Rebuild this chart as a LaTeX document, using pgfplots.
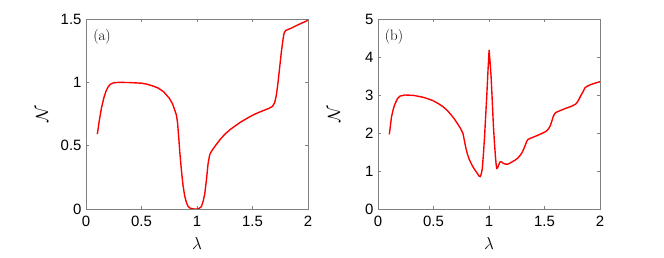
\documentclass[border=0pt]{standalone}
\usepackage{fontspec}
\usepackage{pgfplots}
\pgfplotsset{compat=1.18}
\newfontfamily\arial{Liberation Sans}

\pgfplotsset{
  panel/.style={
    width=222bp, height=190bp, scale only axis,
    xmin=0, xmax=2, xtick={0,0.5,1,1.5,2},
    tick align=inside,
    axis line style={black!50},
    every tick/.style={black!50, line width=0.5pt},
    major tick length=3bp,
    tick label style={font=\arial\fontsize{15}{16}\selectfont},
    /pgf/number format/assume math mode=true,
    xticklabel style={yshift=-4bp},
    yticklabel style={xshift=-1bp},
    label style={font=\fontsize{18}{19}\selectfont},
    xlabel={$\lambda$}, ylabel={$\mathcal{N}$},
    xlabel style={at={(axis description cs:0.5,-0.184)}, anchor=center},
    ylabel style={at={(axis description cs:-0.198,0.5)}, anchor=center},
  },
  curve/.style={red, line width=1.4pt, line join=round},
}

\begin{document}
\begin{tikzpicture}
\path[use as bounding box] (0,0) rectangle (664bp,258bp);

% (a)
\begin{axis}[panel, at={(86bp,49bp)}, anchor=south west,
  ymin=0, ymax=1.5, ytick={0,0.5,1,1.5}]
\addplot[curve] coordinates {
(0.102,0.591)(0.12,0.70)(0.14,0.80)(0.16,0.875)(0.18,0.93)(0.2,0.965)
(0.22,0.985)(0.25,0.997)(0.3,1.0)(0.4,0.998)(0.5,0.993)(0.55,0.985)
(0.6,0.972)(0.65,0.955)(0.7,0.925)(0.75,0.875)(0.78,0.83)(0.8,0.78)
(0.815,0.74)(0.825,0.68)(0.835,0.57)(0.845,0.45)(0.855,0.35)(0.865,0.26)
(0.875,0.18)(0.89,0.10)(0.905,0.05)(0.92,0.02)(0.94,0.006)(0.97,0.0)
(1.0,0.0)(1.02,0.005)(1.04,0.02)(1.055,0.06)(1.07,0.12)(1.085,0.23)
(1.10,0.36)(1.115,0.43)(1.13,0.455)(1.17,0.505)(1.21,0.55)(1.25,0.59)
(1.3,0.628)(1.35,0.66)(1.4,0.69)(1.45,0.715)(1.5,0.74)(1.55,0.76)
(1.6,0.778)(1.65,0.795)(1.68,0.81)(1.70,0.84)(1.715,0.90)(1.73,1.0)
(1.745,1.12)(1.76,1.24)(1.775,1.34)(1.785,1.39)(1.8,1.41)(1.85,1.428)
(1.9,1.45)(1.95,1.47)(2.0,1.49)
};
\node[font=\fontsize{15}{16}\selectfont] at (axis description cs:0.072,0.905) {(a)};
\end{axis}

% (b)
\begin{axis}[panel, at={(378bp,49bp)}, anchor=south west,
  ymin=0, ymax=5, ytick={0,1,2,3,4,5}]
\addplot[curve] coordinates {
(0.102,1.965)(0.122,2.43)(0.137,2.62)(0.152,2.76)(0.175,2.90)(0.197,2.97)
(0.242,3.0)(0.32,2.99)(0.407,2.94)(0.45,2.90)(0.496,2.85)(0.54,2.78)
(0.586,2.69)(0.625,2.59)(0.661,2.47)(0.69,2.36)(0.72,2.23)(0.745,2.11)
(0.765,1.99)(0.777,1.82)(0.789,1.64)(0.803,1.47)(0.819,1.33)(0.837,1.21)
(0.855,1.11)(0.875,1.02)(0.894,0.94)(0.91,0.87)(0.921,0.85)(0.93,0.92)
(0.939,1.05)(0.95,1.45)(0.96,1.90)(0.971,2.50)(0.981,3.04)(0.991,3.65)
(1.001,4.18)(1.01,3.85)(1.019,3.48)(1.03,2.80)(1.04,2.17)(1.05,1.70)
(1.058,1.38)(1.064,1.18)(1.07,1.06)(1.079,1.10)(1.088,1.16)(1.097,1.23)
(1.106,1.25)(1.118,1.23)(1.13,1.20)(1.15,1.18)(1.169,1.18)(1.19,1.21)
(1.214,1.25)(1.237,1.29)(1.259,1.34)(1.28,1.41)(1.297,1.48)(1.313,1.58)
(1.327,1.68)(1.34,1.78)(1.351,1.83)(1.38,1.87)(1.423,1.92)(1.47,1.98)
(1.513,2.04)(1.533,2.10)(1.549,2.17)(1.565,2.30)(1.578,2.43)(1.59,2.50)
(1.602,2.54)(1.65,2.60)(1.692,2.65)(1.74,2.70)(1.781,2.76)(1.797,2.82)
(1.811,2.89)(1.83,3.00)(1.848,3.09)(1.862,3.18)(1.878,3.22)(1.905,3.26)
(1.932,3.29)(1.965,3.32)(2.0,3.35)
};
\node[font=\fontsize{15}{16}\selectfont] at (axis description cs:0.072,0.905) {(b)};
\end{axis}
\end{tikzpicture}
\end{document}
